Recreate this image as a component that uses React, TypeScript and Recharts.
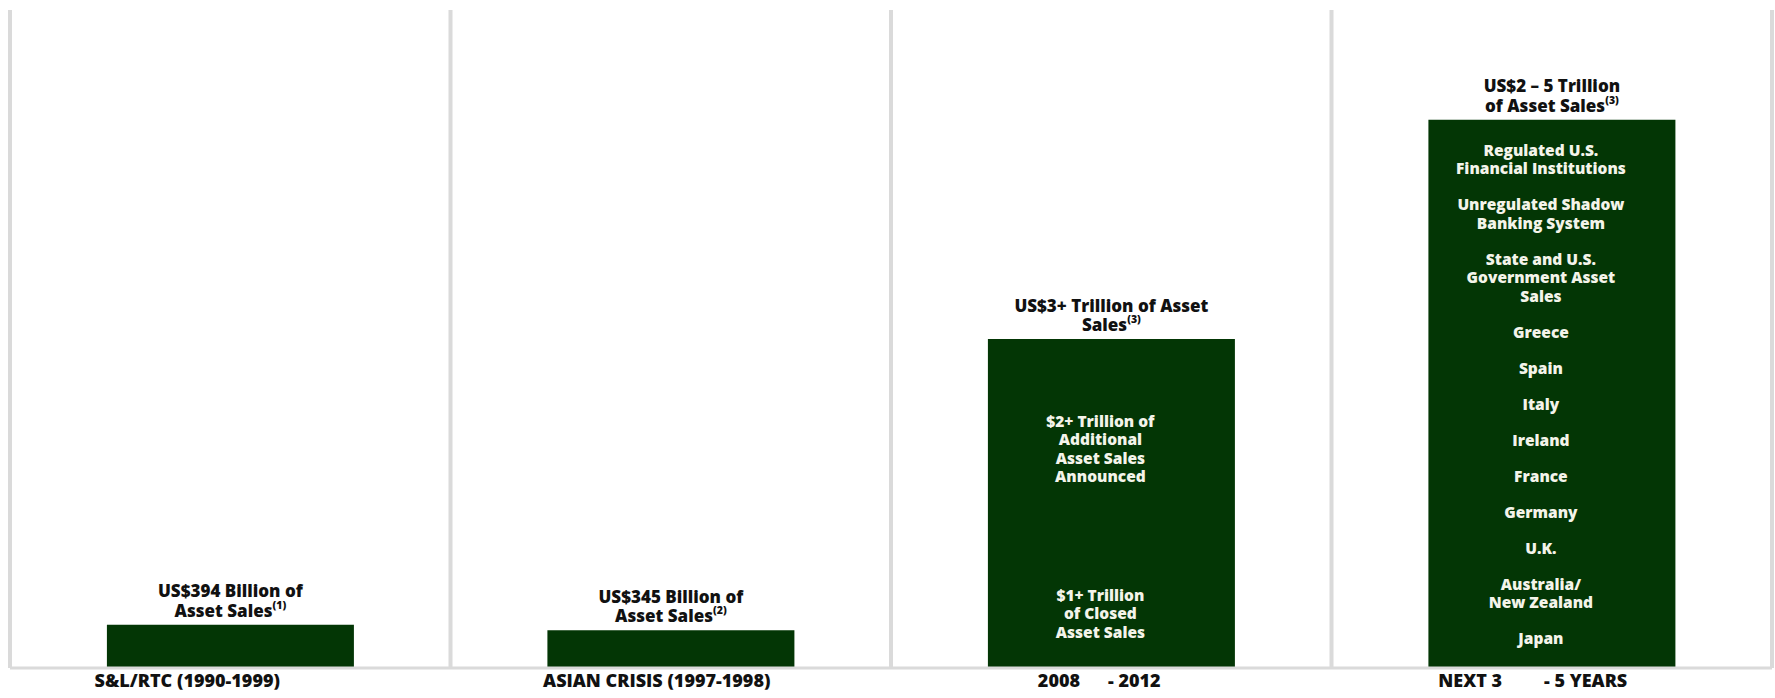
import { Bar, BarChart, CartesianGrid, LabelList, XAxis, YAxis } from 'recharts';

// periods on the x axis (gaps kept as in the original slide)
const categories = [
  'S&L/RTC (1990-1999)',
  'ASIAN CRISIS (1997-1998)',
  '2008\u00a0\u00a0\u00a0\u00a0\u00a0 - 2012',
  'NEXT 3\u00a0\u00a0\u00a0\u00a0\u00a0\u00a0\u00a0\u00a0 - 5 YEARS',
];

// asset sales, US$ billions
const closedSales = [394, 345, 1000, 5000];
const announcedSales = [0, 0, 2000, 0];

// title above each bar
const titleLine1 = ['US$394 Billion of', 'US$345 Billion of', 'US$3+ Trillion of Asset', 'US$2 \u2013 5 Trillion'];
const titleLine2 = ['Asset Sales', 'Asset Sales', 'Sales', 'of Asset Sales'];
const footnotes = ['(1)', '(2)', '(3)', '(3)'];

// text inside the bars
const sellerGroups = [
  ['Regulated U.S.', 'Financial Institutions'],
  ['Unregulated Shadow', 'Banking System'],
  ['State and U.S.', 'Government Asset', 'Sales'],
  ['Greece'],
  ['Spain'],
  ['Italy'],
  ['Ireland'],
  ['France'],
  ['Germany'],
  ['U.K.'],
  ['Australia/', 'New Zealand'],
  ['Japan'],
];
const closedNotes: string[][][] = [[], [], [['$1+ Trillion', 'of Closed', 'Asset Sales']], sellerGroups];
const announcedNotes: string[][][] = [[], [], [['$2+ Trillion of', 'Additional', 'Asset Sales', 'Announced']], []];

const data = categories.map((category, i) => ({
  category,
  total: closedSales[i] + announcedSales[i],
}));

const FONT = '"Open Sans", sans-serif';
const BAR_COLOR = '#033605';
const GRID_COLOR = '#dadada';
const LINE_STEP = 18.5;
const GROUP_EXTRA = 17.5;
const TITLE_STEP = 19.5;
// category labels sit a little left of the bar centres in the slide
const TICK_SHIFT = [-43, -14, -12, -19];

// one vertical rule at every band edge
const bandEdges = ({ offset }: any) => {
  const step = offset.width / categories.length;
  return [0, 1, 2, 3, 4].map(k => offset.left + k * step);
};

// stacked line groups, centred vertically in [top, bottom]
const noteBlock = (groups: string[][], cx: number, top: number, bottom: number, key: string) => {
  if (!groups || groups.length === 0) return null;
  const lineCount = groups.reduce((n, g) => n + g.length, 0);
  const span = (lineCount - 1) * LINE_STEP + (groups.length - 1) * GROUP_EXTRA;
  let cy = (top + bottom) / 2 - span / 2;
  return (
    <g key={key}>
      {groups.map((g, gi) => {
        const startY = cy;
        cy += g.length * LINE_STEP + GROUP_EXTRA;
        return (
          <text
            key={gi}
            x={cx}
            y={startY}
            textAnchor="middle"
            dominantBaseline="central"
            fill="#f4f4ea"
            fontFamily={FONT}
            fontWeight={800}
            fontSize={15.5}
          >
            {g.map((line, li) => (
              <tspan key={li} x={cx} dy={li === 0 ? 0 : LINE_STEP}>
                {line}
              </tspan>
            ))}
          </text>
        );
      })}
    </g>
  );
};

// title above the bar plus the notes inside both parts of it
const barLabels = (props: any) => {
  const { x, y, width, height, index } = props;
  const cx = x + width / 2;
  const total = closedSales[index] + announcedSales[index];
  const split = y + (height * announcedSales[index]) / total;
  const line2 = y - 15;
  return (
    <g>
      <text
        x={cx}
        y={line2 - TITLE_STEP}
        textAnchor="middle"
        dominantBaseline="central"
        fontFamily={FONT}
        fontWeight={800}
        fontSize={17}
        fill="#111111"
      >
        <tspan x={cx}>{titleLine1[index]}</tspan>
        <tspan x={cx} dy={TITLE_STEP}>
          {titleLine2[index]}
          <tspan fontSize={10.5} dy={-5}>
            {footnotes[index]}
          </tspan>
        </tspan>
      </text>
      {noteBlock(announcedNotes[index], cx - 11, y, split, 'announced')}
      {noteBlock(closedNotes[index], cx - 11, split, y + height, 'closed')}
    </g>
  );
};

const CategoryTick = (props: any) => {
  const { x, y, payload, index } = props;
  return (
    <text
      x={x + (TICK_SHIFT[index] ?? 0)}
      y={y + 10}
      textAnchor="middle"
      dominantBaseline="central"
      fontFamily={FONT}
      fontWeight={800}
      fontSize={18}
      fill="#111111"
    >
      {payload.value}
    </text>
  );
};

export default function App() {
  return (
    <div style={{ position: 'absolute', left: 0, top: 0, background: '#fff' }}>
      <BarChart
        width={1775}
        height={698}
        data={data}
        margin={{ top: 10, right: 3, left: 10, bottom: 0 }}
        barCategoryGap="22%"
      >
        <CartesianGrid
          horizontal={false}
          stroke={GRID_COLOR}
          strokeWidth={4}
          verticalCoordinatesGenerator={bandEdges}
        />
        <XAxis
          dataKey="category"
          height={30}
          axisLine={{ stroke: GRID_COLOR, strokeWidth: 3 }}
          tickLine={false}
          tickSize={0}
          tick={<CategoryTick />}
          interval={0}
        />
        <YAxis hide domain={[0, 6000]} />
        <Bar dataKey="total" fill={BAR_COLOR} isAnimationActive={false}>
          <LabelList dataKey="total" content={barLabels} />
        </Bar>
      </BarChart>
    </div>
  );
}
